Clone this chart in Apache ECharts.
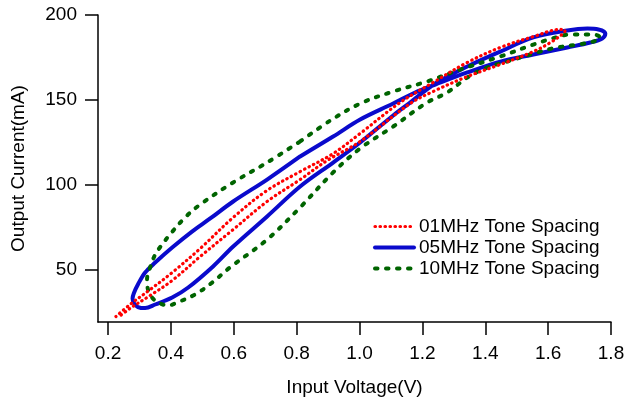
<!DOCTYPE html>
<html>
<head>
<meta charset="utf-8">
<script src="https://cdn.jsdelivr.net/npm/echarts@6/dist/echarts.min.js"></script>
<style>
  html, body { margin: 0; padding: 0; background: #fff; }
  #chart { width: 624px; height: 399px; }
</style>
</head>
<body>
<div id="chart"></div>
<script>
// tick labels
var xTicks = [0.2, 0.4, 0.6, 0.8, 1.0, 1.2, 1.4, 1.6, 1.8];
var yTicks = [50, 100, 150, 200];

// 01MHz tone spacing (loop)
var red01X = [0.225,0.270,0.334,0.404,0.493,0.598,0.706,0.811,0.916,1.002,1.129,1.234,1.343,1.448,1.553,1.639,1.654,
  1.648,1.607,1.553,1.448,1.343,1.234,1.161,1.002,0.897,0.811,0.706,0.598,0.493,0.404,0.334,0.270,0.232];
var red01Y = [22.6,29.7,38.5,48.5,62.6,80.9,96.8,107.9,118.5,130.3,148.5,160.3,172.1,180.9,187.3,191.5,190.9,
  189.1,183.8,178.5,170.9,163.8,155.0,147.9,125.6,114.4,103.2,90.3,73.8,57.9,43.8,35.0,27.4,22.1];

// 05MHz tone spacing (starts mid upper branch)
var blue05X = [0.811,0.916,1.002,1.107,1.177,1.241,1.343,1.448,1.553,1.661,1.734,1.772,1.782,1.760,1.725,
  1.661,1.553,1.448,1.343,1.241,1.161,1.107,1.002,0.916,0.811,0.706,0.598,0.534,0.455,0.404,0.350,
  0.318,0.295,0.283,0.278,0.283,0.295,0.318,0.350,0.404,0.467,0.525,0.598,0.706,0.811];
var blue05Y = [116.8,128.5,138.5,147.9,154.4,159.1,166.2,172.6,176.8,180.9,183.8,186.2,189.1,191.5,192.0,
  190.9,186.8,178.5,169.7,159.7,148.5,140.9,125.0,113.2,99.1,81.5,63.8,52.1,39.7,33.8,29.7,
  27.6,28.2,30.3,33.2,36.8,41.5,48.5,54.4,63.2,72.6,80.3,90.3,103.2,116.8];

// 10MHz tone spacing (starts mid upper branch)
var green10X = [0.811,0.907,1.002,1.107,1.215,1.320,1.448,1.553,1.613,1.670,1.744,1.766,1.744,1.693,1.629,
  1.575,1.470,1.406,1.343,1.279,1.215,1.107,1.002,0.916,0.811,0.706,0.588,0.531,0.477,0.420,0.391,
  0.359,0.340,0.327,0.324,0.334,0.350,0.372,0.397,0.445,0.493,0.598,0.706,0.811];
var green10Y = [125.6,137.9,147.9,155.0,160.9,167.9,175.6,182.6,186.2,188.5,188.5,186.8,184.4,182.6,180.9,
  178.5,172.6,169.1,163.2,154.4,148.5,134.4,121.5,107.4,86.8,67.9,51.5,42.6,35.6,30.9,29.1,
  30.9,33.8,38.5,44.4,51.5,59.1,65.0,70.9,80.9,88.5,101.5,113.2,125.6];

function pairs(xs, ys) {
  return xs.map(function (x, i) { return [x, ys[i]]; });
}

var font = '"Liberation Sans", Arial, Helvetica, sans-serif';
var axisStyle = { color: '#000', width: 1.5 };

var option = {
  backgroundColor: '#fff',
  animation: false,
  textStyle: { fontFamily: font },
  grid: { left: 98, right: 13, top: 15, bottom: 77, outerBoundsMode: 'none' },
  legend: {
    orient: 'vertical',
    left: 373,
    top: 217,
    padding: 0,
    itemGap: 2,
    itemWidth: 39,
    itemHeight: 14,
    itemStyle: { opacity: 0 },
    textStyle: { fontSize: 19, color: '#000', fontFamily: font },
    data: [
      { name: '01MHz Tone Spacing', lineStyle: { width: 3.2 } },
      { name: '05MHz Tone Spacing', lineStyle: { width: 4 } },
      { name: '10MHz Tone Spacing', lineStyle: { width: 4 } }
    ]
  },
  xAxis: {
    type: 'value',
    min: 0.168,
    max: 1.8,
    name: 'Input Voltage(V)',
    nameLocation: 'middle',
    nameGap: 56,
    nameTextStyle: { fontSize: 19, color: '#000' },
    axisLine: { show: true, lineStyle: axisStyle },
    axisTick: { show: true, inside: false, length: 13, lineStyle: axisStyle, customValues: xTicks },
    axisLabel: {
      fontSize: 19, color: '#000', margin: 22, customValues: xTicks,
      formatter: function (v) { return v.toFixed(1); }
    },
    splitLine: { show: false }
  },
  yAxis: {
    type: 'value',
    min: 19.4,
    max: 200,
    name: 'Output Current(mA)',
    nameLocation: 'middle',
    nameGap: 70,
    nameTextStyle: { fontSize: 19, color: '#000' },
    axisLine: { show: true, lineStyle: axisStyle },
    axisTick: { show: true, length: 13, lineStyle: axisStyle, customValues: yTicks },
    axisLabel: { fontSize: 19, color: '#000', margin: 21, customValues: yTicks },
    splitLine: { show: false }
  },
  series: [
    {
      name: '01MHz Tone Spacing',
      type: 'line',
      z: 4,
      symbol: 'none',
      smooth: 0.35,
      lineStyle: { color: '#ff0000', width: 3.2, type: [0.5, 4.5], cap: 'round' },
      itemStyle: { color: '#ff0000' },
      data: pairs(red01X, red01Y)
    },
    {
      name: '05MHz Tone Spacing',
      type: 'line',
      z: 2,
      symbol: 'none',
      smooth: 0.35,
      lineStyle: { color: '#0a0acc', width: 4, cap: 'round', join: 'round' },
      itemStyle: { color: '#0a0acc' },
      data: pairs(blue05X, blue05Y)
    },
    {
      name: '10MHz Tone Spacing',
      type: 'line',
      z: 3,
      symbol: 'none',
      smooth: 0.35,
      lineStyle: { color: '#006400', width: 4, type: [2.5, 8.5], cap: 'round' },
      itemStyle: { color: '#006400' },
      data: pairs(green10X, green10Y)
    }
  ]
};

var myChart = echarts.init(document.getElementById('chart'));
myChart.setOption(option);
</script>
</body>
</html>
